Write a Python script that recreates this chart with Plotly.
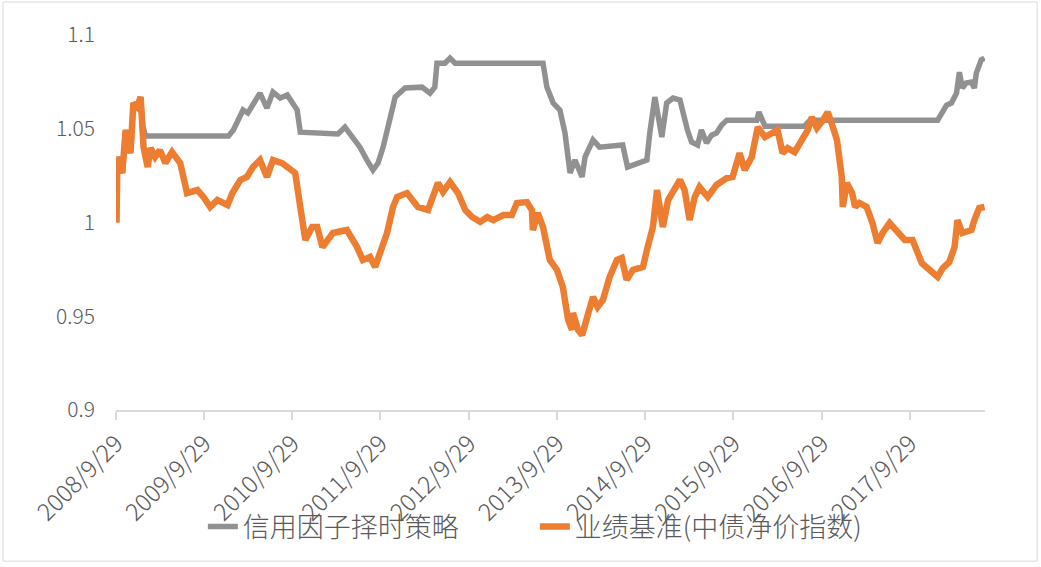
import plotly.graph_objects as go

strategy_dates = [
    "2008-10-01", "2008-10-05", "2008-10-25", "2008-11-08", "2008-11-28", "2008-12-10",
    "2008-12-26", "2009-01-09", "2009-01-17", "2009-01-29", "2010-01-08", "2010-01-28",
    "2010-03-09", "2010-03-29", "2010-05-18", "2010-06-16", "2010-07-11", "2010-08-10",
    "2010-09-08", "2010-09-29", "2010-10-19", "2010-11-01", "2011-04-06", "2011-05-05",
    "2011-05-25", "2011-07-06", "2011-08-04", "2011-08-29", "2011-09-19", "2011-10-10",
    "2011-10-30", "2011-11-29", "2012-01-09", "2012-03-19", "2012-04-21", "2012-05-11",
    "2012-05-20", "2012-06-22", "2012-07-13", "2012-08-03", "2013-08-02", "2013-08-18",
    "2013-09-13", "2013-10-11", "2013-11-01", "2013-11-22", "2013-12-12", "2014-01-11",
    "2014-01-23", "2014-02-25", "2014-03-24", "2014-06-28", "2014-07-18", "2014-10-06",
    "2014-10-18", "2014-11-08", "2014-12-07", "2014-12-27", "2015-01-22", "2015-02-20",
    "2015-03-23", "2015-04-09", "2015-05-04", "2015-05-20", "2015-06-10", "2015-07-01",
    "2015-07-21", "2015-08-12", "2015-09-02", "2016-01-04", "2016-01-13", "2016-02-07",
    "2016-07-20", "2016-08-11", "2018-01-22", "2018-02-09", "2018-02-28", "2018-03-20",
    "2018-04-10", "2018-04-22", "2018-05-04", "2018-05-20", "2018-06-11", "2018-06-23",
    "2018-07-01", "2018-07-21", "2018-08-04",
]
strategy_values = [
    1.0000, 1.0349, 1.0264, 1.0493, 1.0370, 1.0637,
    1.0616, 1.0669, 1.0520, 1.0461, 1.0461, 1.0493,
    1.0600, 1.0584, 1.0690, 1.0610, 1.0696, 1.0664,
    1.0680, 1.0642, 1.0600, 1.0482, 1.0472, 1.0509,
    1.0477, 1.0402, 1.0333, 1.0280, 1.0317, 1.0402,
    1.0509, 1.0669, 1.0717, 1.0722, 1.0690, 1.0722,
    1.0850, 1.0850, 1.0877, 1.0850, 1.0850, 1.0722,
    1.0637, 1.0600, 1.0477, 1.0264, 1.0333, 1.0243,
    1.0349, 1.0440, 1.0402, 1.0413, 1.0296, 1.0333,
    1.0477, 1.0669, 1.0456, 1.0637, 1.0664, 1.0653,
    1.0493, 1.0429, 1.0413, 1.0493, 1.0424, 1.0466,
    1.0477, 1.0520, 1.0546, 1.0546, 1.0589, 1.0514,
    1.0514, 1.0546, 1.0546, 1.0589, 1.0626, 1.0637,
    1.0690, 1.0802, 1.0717, 1.0744, 1.0749, 1.0717,
    1.0797, 1.0866, 1.0877,
]

benchmark_dates = [
    "2008-10-01", "2008-10-05", "2008-10-25", "2008-11-08", "2008-11-28", "2008-12-10",
    "2008-12-26", "2009-01-09", "2009-01-21", "2009-02-07", "2009-02-19", "2009-03-10",
    "2009-03-30", "2009-04-21", "2009-05-19", "2009-06-22", "2009-07-20", "2009-09-01",
    "2009-09-26", "2009-10-24", "2009-11-23", "2010-01-04", "2010-01-24", "2010-02-26",
    "2010-03-25", "2010-04-19", "2010-05-18", "2010-06-16", "2010-07-11", "2010-08-18",
    "2010-09-08", "2010-10-11", "2010-11-01", "2010-11-22", "2010-12-20", "2011-01-10",
    "2011-02-01", "2011-03-16", "2011-05-13", "2011-06-24", "2011-07-18", "2011-08-17",
    "2011-09-07", "2011-09-27", "2011-10-26", "2011-11-20", "2011-12-07", "2012-01-17",
    "2012-02-11", "2012-03-02", "2012-04-13", "2012-05-11", "2012-05-24", "2012-06-14",
    "2012-07-13", "2012-08-15", "2012-09-14", "2012-10-12", "2012-11-15", "2012-12-14",
    "2013-01-08", "2013-02-19", "2013-03-26", "2013-04-16", "2013-05-27", "2013-06-17",
    "2013-06-21", "2013-07-11", "2013-08-02", "2013-08-30", "2013-09-29", "2013-10-23",
    "2013-11-14", "2013-11-30", "2013-12-04", "2013-12-25", "2014-01-11", "2014-02-01",
    "2014-02-25", "2014-03-16", "2014-04-07", "2014-05-05", "2014-06-04", "2014-06-24",
    "2014-07-14", "2014-08-09", "2014-09-20", "2014-10-06", "2014-10-31", "2014-11-17",
    "2014-12-11", "2015-01-02", "2015-01-31", "2015-02-20", "2015-03-11", "2015-04-01",
    "2015-04-22", "2015-05-12", "2015-06-15", "2015-07-21", "2015-09-02", "2015-09-26",
    "2015-10-25", "2015-11-15", "2015-12-14", "2016-01-08", "2016-02-07", "2016-03-05",
    "2016-03-30", "2016-04-20", "2016-05-11", "2016-06-09", "2016-07-08", "2016-08-02",
    "2016-08-19", "2016-09-09", "2016-10-04", "2016-10-24", "2016-11-14", "2016-12-01",
    "2016-12-21", "2016-12-25", "2017-01-11", "2017-02-02", "2017-02-14", "2017-03-04",
    "2017-04-03", "2017-04-27", "2017-05-18", "2017-06-08", "2017-07-07", "2017-08-05",
    "2017-09-08", "2017-10-10", "2017-11-17", "2017-12-20", "2018-01-22", "2018-02-12",
    "2018-03-11", "2018-04-02", "2018-04-14", "2018-05-04", "2018-06-11", "2018-06-23",
    "2018-07-13", "2018-08-04",
]
benchmark_values = [
    1.0000, 1.0349, 1.0264, 1.0493, 1.0370, 1.0637,
    1.0616, 1.0669, 1.0402, 1.0296, 1.0397, 1.0349,
    1.0386, 1.0317, 1.0376, 1.0317, 1.0157, 1.0173,
    1.0136, 1.0083, 1.0120, 1.0093, 1.0157, 1.0227,
    1.0243, 1.0296, 1.0333, 1.0243, 1.0333, 1.0317,
    1.0296, 1.0264, 1.0083, 0.9907, 0.9976, 0.9976,
    0.9869, 0.9944, 0.9960, 0.9869, 0.9800, 0.9816,
    0.9763, 0.9837, 0.9944, 1.0083, 1.0136, 1.0157,
    1.0120, 1.0083, 1.0067, 1.0173, 1.0211, 1.0163,
    1.0216, 1.0157, 1.0067, 1.0029, 1.0003, 1.0029,
    1.0013, 1.0040, 1.0040, 1.0104, 1.0109, 1.0067,
    0.9960, 1.0051, 0.9976, 0.9800, 0.9747, 0.9656,
    0.9480, 0.9427, 0.9518, 0.9427, 0.9400, 0.9496,
    0.9603, 0.9550, 0.9587, 0.9710, 0.9800, 0.9811,
    0.9694, 0.9747, 0.9763, 0.9853, 0.9976, 1.0173,
    0.9976, 1.0120, 1.0189, 1.0227, 1.0173, 1.0013,
    1.0136, 1.0189, 1.0136, 1.0200, 1.0237, 1.0243,
    1.0370, 1.0280, 1.0349, 1.0509, 1.0456, 1.0477,
    1.0493, 1.0370, 1.0397, 1.0376, 1.0440, 1.0493,
    1.0562, 1.0504, 1.0546, 1.0589, 1.0509, 1.0440,
    1.0243, 1.0083, 1.0211, 1.0157, 1.0083, 1.0104,
    1.0083, 0.9997, 0.9891, 0.9944, 0.9997, 0.9960,
    0.9907, 0.9907, 0.9784, 0.9747, 0.9710, 0.9757,
    0.9789, 0.9869, 1.0013, 0.9944, 0.9960, 1.0013,
    1.0077, 1.0083,
]

tick_dates = ["2008-09-29", "2009-09-29", "2010-09-29", "2011-09-29", "2012-09-29",
              "2013-09-29", "2014-09-29", "2015-09-29", "2016-09-29", "2017-09-29"]
tick_labels = ["2008/9/29", "2009/9/29", "2010/9/29", "2011/9/29", "2012/9/29",
               "2013/9/29", "2014/9/29", "2015/9/29", "2016/9/29", "2017/9/29"]
y_ticks = [0.9, 0.95, 1.0, 1.05, 1.1]
y_tick_labels = ["0.9", "0.95", "1", "1.05", "1.1"]

series_names = ["信用因子择时策略", "业绩基准(中债净价指数)"]

FONT = "Noto Sans CJK SC, Noto Sans, sans-serif"
TEXT = "#595959"

fig = go.Figure()
fig.add_trace(go.Scatter(
    x=strategy_dates, y=strategy_values, mode="lines", name=series_names[0],
    line=dict(color="#919191", width=5.5, shape="linear"),
))
fig.add_trace(go.Scatter(
    x=benchmark_dates, y=benchmark_values, mode="lines", name=series_names[1],
    line=dict(color="#ED7D31", width=6.5, shape="linear"),
))

fig.update_layout(
    width=1041, height=567,
    margin=dict(l=116, r=56, t=35, b=157, autoexpand=False),
    paper_bgcolor="white", plot_bgcolor="white",
    font=dict(family=FONT, color=TEXT, size=18, weight=300),
    showlegend=True,
    legend=dict(
        orientation="h", x=0.482, xanchor="center", y=-0.312, yanchor="middle",
        font=dict(size=27, color=TEXT, family=FONT, weight=300),
        bgcolor="rgba(0,0,0,0)", entrywidth=287, entrywidthmode="pixels",
    ),
    xaxis=dict(
        type="date", range=["2008-09-29", "2018-08-06"], automargin=False,
        tickmode="array", tickvals=tick_dates, ticktext=tick_labels,
        tickangle=-45, showgrid=False, zeroline=False,
        showline=True, linecolor="#d9d9d9", linewidth=2,
        ticks="outside", ticklen=8, tickcolor="#d9d9d9", tickwidth=1.5,
        tickfont=dict(size=24, color=TEXT, family=FONT, weight=300),
    ),
    yaxis=dict(
        range=[0.9, 1.1], tickmode="array", tickvals=y_ticks, ticktext=y_tick_labels,
        automargin=False,
        showgrid=False, zeroline=False, showline=False, ticks="",
        tickfont=dict(size=21, color=TEXT, family=FONT, weight=300), ticklabelstandoff=20,
    ),
    shapes=[dict(
        type="rect", xref="paper", yref="paper",
        x0=-0.130, x1=1.060, y0=-0.403, y1=1.088,
        line=dict(color="#d9d9d9", width=1), fillcolor="rgba(0,0,0,0)", layer="below",
    )],
)

fig.write_html("out.html", config={"displayModeBar": False},
               post_script="document.body.style.margin='0px';")
